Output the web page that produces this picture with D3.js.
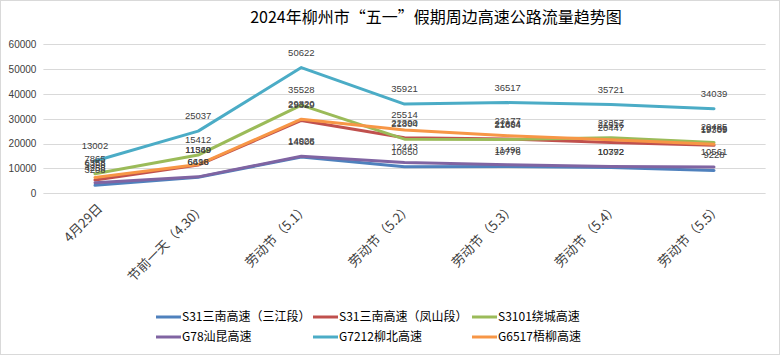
<!DOCTYPE html>
<html><head><meta charset="utf-8">
<script src="https://cdn.jsdelivr.net/npm/d3@7"></script>
<style>
html,body{margin:0;padding:0;background:#fff;}
svg{display:block;}
</style></head>
<body>
<svg id="chart" width="780" height="355"></svg>
<script>
const title = "2024年柳州市“五一”假期周边高速公路流量趋势图";
const categories = ["4月29日","节前一天（4.30）","劳动节（5.1）","劳动节（5.2）","劳动节（5.3）","劳动节（5.4）","劳动节（5.5）"];
const seriesNames = ["S31三南高速（三江段）","S31三南高速（凤山段）","S3101绕城高速","G78汕昆高速","G7212柳北高速","G6517梧柳高速"];
const s31Sanjiang = [3208, 6498, 14606, 10650, 10776, 10392, 9228];
const s31Fengshan = [5358, 11349, 29329, 22390, 21894, 20447, 19309];
const s3101 = [7865, 15412, 35528, 21804, 21664, 22357, 20485];
const g78 = [4258, 6616, 14928, 12443, 11498, 10772, 10561];
const g7212 = [13002, 25037, 50622, 35921, 36517, 35721, 34039];
const g6517 = [6358, 11569, 29820, 25514, 23177, 21516, 19755];
const yTicks = [0,10000,20000,30000,40000,50000,60000];
const colors = ["#4F81BD","#C0504D","#9BBB59","#8064A2","#4BACC6","#F79646"];

const allValues = [s31Sanjiang, s31Fengshan, s3101, g78, g7212, g6517];
const series = seriesNames.map((n,i)=>({name:n, color:colors[i], values:allValues[i]}));

const svg = d3.select("#chart");
const W = 780, H = 355;
const font = "'Noto Sans CJK SC','Liberation Sans',sans-serif";

svg.append("rect").attr("x",0.5).attr("y",0.5).attr("width",W-1).attr("height",H-1)
  .attr("fill","#fff").attr("stroke","#d9d9d9");

svg.append("text").attr("x",436).attr("y",23).attr("text-anchor","middle")
  .attr("font-family",font).attr("font-size",16).attr("fill","#000").text(title);

const x = d3.scalePoint().domain(categories).range([43.4,765.6]).padding(0.5);
const y = d3.scaleLinear().domain([0,60000]).range([193.3,44.3]);

// gridlines
svg.append("g").selectAll("line").data(yTicks).join("line")
  .attr("x1",43.4).attr("x2",765.6)
  .attr("y1",d=>Math.round(y(d))+0.5).attr("y2",d=>Math.round(y(d))+0.5)
  .attr("stroke","#d9d9d9").attr("stroke-width",1);

// y axis labels
const yAxis = d3.axisLeft(y).tickValues(yTicks).tickSize(0).tickPadding(7).tickFormat(d3.format("d"));
const yg = svg.append("g").attr("transform","translate(43.4,0)").call(yAxis);
yg.select(".domain").remove();
yg.selectAll("text").attr("font-family","'Liberation Sans',sans-serif").attr("font-size",10).attr("fill","#404040");

// x axis labels
const xg = svg.append("g");
xg.selectAll("text").data(categories).join("text")
  .attr("transform",d=>`translate(${x(d)+5},206) rotate(-45)`)
  .attr("text-anchor","end").attr("dy","0.35em")
  .attr("font-family",font).attr("font-size",13).attr("fill","#404040")
  .text(d=>d);

// lines
const line = d3.line().x((d,i)=>x(categories[i])).y(d=>y(d));
svg.append("g").selectAll("path").data(series).join("path")
  .attr("d",d=>line(d.values)).attr("fill","none")
  .attr("stroke",d=>d.color).attr("stroke-width",3)
  .attr("stroke-linejoin","round").attr("stroke-linecap","round");

// data labels
const lg = svg.append("g");
series.forEach(s=>{
  lg.selectAll(null).data(s.values).join("text")
    .attr("x",(d,i)=>x(categories[i])).attr("y",d=>y(d)-12)
    .attr("text-anchor","middle")
    .attr("font-family","'Liberation Sans',sans-serif").attr("font-size",9.5).attr("fill","#404040")
    .text(d=>d);
});

// legend
const legendPos = [[156,317],[313,317],[472,317],[156,337],[313,337],[472,337]];
const leg = svg.append("g").selectAll("g").data(series).join("g")
  .attr("transform",(d,i)=>`translate(${legendPos[i][0]},${legendPos[i][1]})`);
leg.append("line").attr("x1",0).attr("x2",25).attr("y1",0).attr("y2",0)
  .attr("stroke",d=>d.color).attr("stroke-width",3);
leg.append("text").attr("x",26).attr("y",0).attr("dy","0.35em")
  .attr("font-family",font).attr("font-size",12).attr("fill","#000")
  .text(d=>d.name);
</script>
</body></html>
